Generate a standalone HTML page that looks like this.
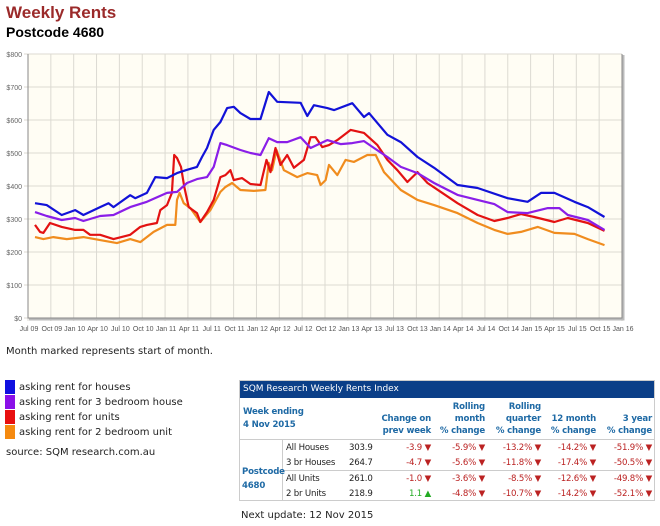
<!DOCTYPE html>
<html><head><meta charset="utf-8"><style>
body{margin:0;width:660px;height:526px;background:#fff;position:relative;overflow:hidden;font-family:"DejaVu Sans","Liberation Sans",sans-serif}
.abs{position:absolute;white-space:nowrap}
#tbl{position:absolute;left:239px;top:380px;width:416px;height:121px;border:1px solid #ccc;box-sizing:border-box}
.t{position:absolute;white-space:nowrap;font-size:8.6px;line-height:11px;letter-spacing:-0.2px}
.h{color:#1f6aa5;font-weight:bold;text-align:right}
.r{color:#b22;text-align:right}
.g{color:#2a2;text-align:right}
.n{color:#222}
</style></head><body>
<div class="abs" style="left:6px;top:3px;font:bold 17px 'Liberation Sans',sans-serif;color:#9b2a2a">Weekly Rents</div>
<div class="abs" style="left:6px;top:24px;font:bold 14px 'Liberation Sans',sans-serif;color:#000">Postcode 4680</div>
<svg id="chart" width="660" height="340" style="position:absolute;left:0;top:0"></svg>
<div class="abs" style="left:6px;top:346px;font-size:10px;color:#222">Month marked represents start of month.</div>
<div>
<div class="abs" style="left:5px;top:380px;font-size:10px;color:#222;line-height:15px"><span style="display:inline-block;width:10px;height:14px;background:#1010e0;vertical-align:middle;margin-right:4px"></span>asking rent for houses</div>
<div class="abs" style="left:5px;top:395px;font-size:10px;color:#222;line-height:15px"><span style="display:inline-block;width:10px;height:14px;background:#8a10e8;vertical-align:middle;margin-right:4px"></span>asking rent for 3 bedroom house</div>
<div class="abs" style="left:5px;top:410px;font-size:10px;color:#222;line-height:15px"><span style="display:inline-block;width:10px;height:14px;background:#e81010;vertical-align:middle;margin-right:4px"></span>asking rent for units</div>
<div class="abs" style="left:5px;top:425px;font-size:10px;color:#222;line-height:15px"><span style="display:inline-block;width:10px;height:14px;background:#f58a10;vertical-align:middle;margin-right:4px"></span>asking rent for 2 bedroom unit</div>
</div>
<div class="abs" style="left:6px;top:447px;font-size:10px;color:#222">source: SQM research.com.au</div>

<div id="tbl">
<div style="position:absolute;left:0;top:0;width:414px;height:17px;background:#0b3f88;color:#fff;font-size:9px;line-height:17px;padding-left:3px;box-sizing:border-box">SQM Research Weekly Rents Index</div>
<div class="t" style="left:3px;top:25px;color:#1f6aa5;font-weight:bold;line-height:13px">Week ending<br>4 Nov 2015</div>
<div class="t h" style="right:223px;top:32px;line-height:12px">Change on<br>prev week</div>
<div class="t h" style="right:169px;top:20px;line-height:12px">Rolling<br>month<br>% change</div>
<div class="t h" style="right:113px;top:20px;line-height:12px">Rolling<br>quarter<br>% change</div>
<div class="t h" style="right:58px;top:32px;line-height:12px">12 month<br>% change</div>
<div class="t h" style="right:2px;top:32px;line-height:12px">3 year<br>% change</div>
<div style="position:absolute;left:0;top:58px;width:414px;border-top:1px solid #ccc"></div>
<div style="position:absolute;left:42px;top:89px;width:372px;border-top:1px solid #ccc"></div>
<div style="position:absolute;left:42px;top:58px;height:62px;border-left:1px solid #ccc"></div>
<div class="t" style="left:2px;top:84px;color:#1f6aa5;font-weight:bold;line-height:14px">Postcode<br>4680</div>
<div id="rows"></div>
</div>
<div class="abs" style="left:241px;top:510px;font-size:10px;color:#222">Next update: 12 Nov 2015</div>

<script>
const yTicks=[0,100,200,300,400,500,600,700,800];
const xTickLabels=["Jul 09","Oct 09","Jan 10","Apr 10","Jul 10","Oct 10","Jan 11","Apr 11","Jul 11","Oct 11","Jan 12","Apr 12","Jul 12","Oct 12","Jan 13","Apr 13","Jul 13","Oct 13","Jan 14","Apr 14","Jul 14","Oct 14","Jan 15","Apr 15","Jul 15","Oct 15","Jan 16"];
const housesMonths=[0.92,2.46,4.43,6.18,7.28,9.47,10.57,11.23,13.42,14.08,15.61,16.71,18.25,19.56,20.88,22.19,22.85,23.51,24.39,25.26,26.14,27.02,27.89,29.21,30.53,31.62,32.72,35.79,36.67,37.54,39.3,40.18,42.59,44.12,44.78,47.19,48.95,51.14,53.33,56.4,59.04,62.98,65.61,67.37,69.12,71.75,73.51,75.7];
const housesValues=[348,342,312,327,312,336,348,336,372,363,379,427,424,439,449,458,488,515,570,594,636,640,621,603,603,685,655,652,612,645,636,630,651,609,621,555,533,488,455,403,394,363,352,379,379,352,336,306];
const br3HouseMonths=[0.92,2.46,4.43,6.18,7.28,9.47,11.23,13.42,15.61,18.25,19.56,20.88,22.19,23.51,24.39,25.26,26.14,27.89,29.21,30.53,31.62,32.72,34.04,35.79,37.11,39.3,41.05,42.59,44.12,45.44,47.19,48.95,51.14,53.33,56.4,59.04,61.23,62.98,65.61,68.25,69.78,70.88,73.51,75.7];
const br3HouseValues=[321,309,297,303,294,309,312,336,352,379,382,409,421,427,458,530,524,509,500,494,545,533,533,548,515,539,527,530,536,515,488,458,439,409,373,358,345,321,318,333,333,312,297,267];
const unitsMonths=[0.92,1.58,2.02,2.89,4.43,6.18,7.28,8.16,9.47,11.23,13.42,14.74,15.61,16.93,17.37,18.25,18.9,19.2,19.56,20.09,20.53,21.1,22.19,22.63,23.51,24.39,25.26,25.92,26.58,27.02,28.11,29.21,30.53,31.32,31.84,32.5,33.16,34.04,34.91,36.23,37.11,37.76,38.64,39.52,40.61,42.37,44.12,45.88,47.19,48.51,49.82,51.14,52.46,54.21,56.4,59.04,61.23,62.98,64.74,66.49,69.12,70.88,73.51,75.7];
const unitsValues=[282,261,258,288,276,267,267,252,252,239,252,276,282,288,327,342,379,494,485,458,397,336,318,291,321,358,427,433,448,418,424,406,403,479,442,515,464,494,455,479,548,548,518,524,539,570,561,524,479,448,412,442,409,382,348,312,294,303,315,306,291,303,288,264];
const br2UnitMonths=[0.92,2.02,3.33,5.09,7.28,9.47,11.67,13.42,14.74,16.49,18.25,19.34,19.56,19.91,20.44,21.32,22.63,23.95,25.26,25.92,26.8,27.89,29.65,31.18,31.62,32.06,32.63,33.6,35.35,36.67,37.98,38.42,39.08,39.52,40.61,41.71,42.81,44.56,45.66,46.75,48.95,51.14,53.33,56.4,59.04,61.23,62.98,64.74,66.93,69.12,71.75,73.51,75.7];
const br2UnitValues=[245,239,245,239,245,236,227,239,230,261,282,282,358,379,348,333,291,327,382,397,409,388,385,388,470,448,509,448,427,439,433,403,418,464,433,479,473,494,494,442,388,358,342,318,288,267,255,261,276,258,255,239,221];

const svg=document.getElementById('chart');
const NS='http://www.w3.org/2000/svg';
const L=28,R=622,T=54,B=318;
const xS=m=>L+m*(R-L)/78;
const yS=v=>B-(v/800)*(B-T);
function mk(tag,attrs){const e=document.createElementNS(NS,tag);for(const k in attrs)e.setAttribute(k,attrs[k]);svg.appendChild(e);return e;}
const bg=mk('rect',{x:L,y:T,width:R-L,height:B-T,fill:'#fffdf4'});


yTicks.forEach(v=>{
  const ln=mk('line',{x1:L-4,x2:R,y1:yS(v),y2:yS(v),stroke:'#dcdad2','stroke-width':1});
  
  
  const t=mk('text',{x:22,y:yS(v)+3,'font-size':7,'text-anchor':'end',fill:'#666','font-family':'Liberation Sans, sans-serif'});
  t.textContent='$'+v;
  
  
});
xTickLabels.forEach((lab,i)=>{
  const x=xS(i*3);
  const ln=mk('line',{x1:x,x2:x,y1:T,y2:B+3,stroke:'#dcdad2','stroke-width':1});
  
  
  const t=mk('text',{x:x+1,y:331,'font-size':7,'text-anchor':'middle',fill:'#555','font-family':'Liberation Sans, sans-serif'});
  t.textContent=lab;
  
  
});
const fr=mk('path',{d:`M${L} ${T}V${B}H${R}V${T}`,fill:'none',stroke:'#888','stroke-width':1});


const sh=mk('path',{d:`M${L+1} ${B+1.5}H${R+1.5}V${T+1}`,fill:'none',stroke:'#bbb','stroke-width':2});


const series=[
 ['line-2br-unit',br2UnitMonths,br2UnitValues,'#f08c1e'],
 ['line-units',unitsMonths,unitsValues,'#e31212'],
 ['line-3br-house',br3HouseMonths,br3HouseValues,'#8a1ee8'],
 ['line-houses',housesMonths,housesValues,'#1212d8']
];
series.forEach(([name,ms,vs,c])=>{
  const d=ms.map((m,i)=>(i?'L':'M')+xS(m).toFixed(1)+' '+yS(vs[i]).toFixed(1)).join('');
  const p=mk('path',{d:d,fill:'none',stroke:c,'stroke-width':2.2,'stroke-linejoin':'round'});
  
  
});

const rowNames=["All Houses","3 br Houses","All Units","2 br Units"];
const rowValues=["303.9","264.7","261.0","218.9"];
const chgWeek=["-3.9","-4.7","-1.0","1.1"];
const chgMonth=["-5.9%","-5.6%","-3.6%","-4.8%"];
const chgQuarter=["-13.2%","-11.8%","-8.5%","-10.7%"];
const chg12m=["-14.2%","-17.4%","-12.6%","-14.2%"];
const chg3y=["-51.9%","-50.5%","-49.8%","-52.1%"];
const rowsEl=document.getElementById('rows');
const rowTops=[62,77,93,108];
function cell(txt,cls,style,name){const d=document.createElement('div');d.className='t '+cls;d.setAttribute('style',style);d.textContent=txt;


rowsEl.appendChild(d);}
const arrow=s=>s.startsWith('-')?s+' \u25BC':s+' \u25B2';
rowNames.forEach((n,i)=>{
  const top='top:'+rowTops[i]+'px;';
  cell(n,'n',top+'left:46px','row-name');
  cell(rowValues[i],'n',top+'left:109px;width:40px','row-value');
  cell(arrow(chgWeek[i]),chgWeek[i].startsWith('-')?'r':'g',top+'right:223px','change-prev-week');
  cell(arrow(chgMonth[i]),'r',top+'right:169px','change-month');
  cell(arrow(chgQuarter[i]),'r',top+'right:113px','change-quarter');
  cell(arrow(chg12m[i]),'r',top+'right:58px','change-12-month');
  cell(arrow(chg3y[i]),'r',top+'right:2px','change-3-year');
});
</script>
</body></html>
